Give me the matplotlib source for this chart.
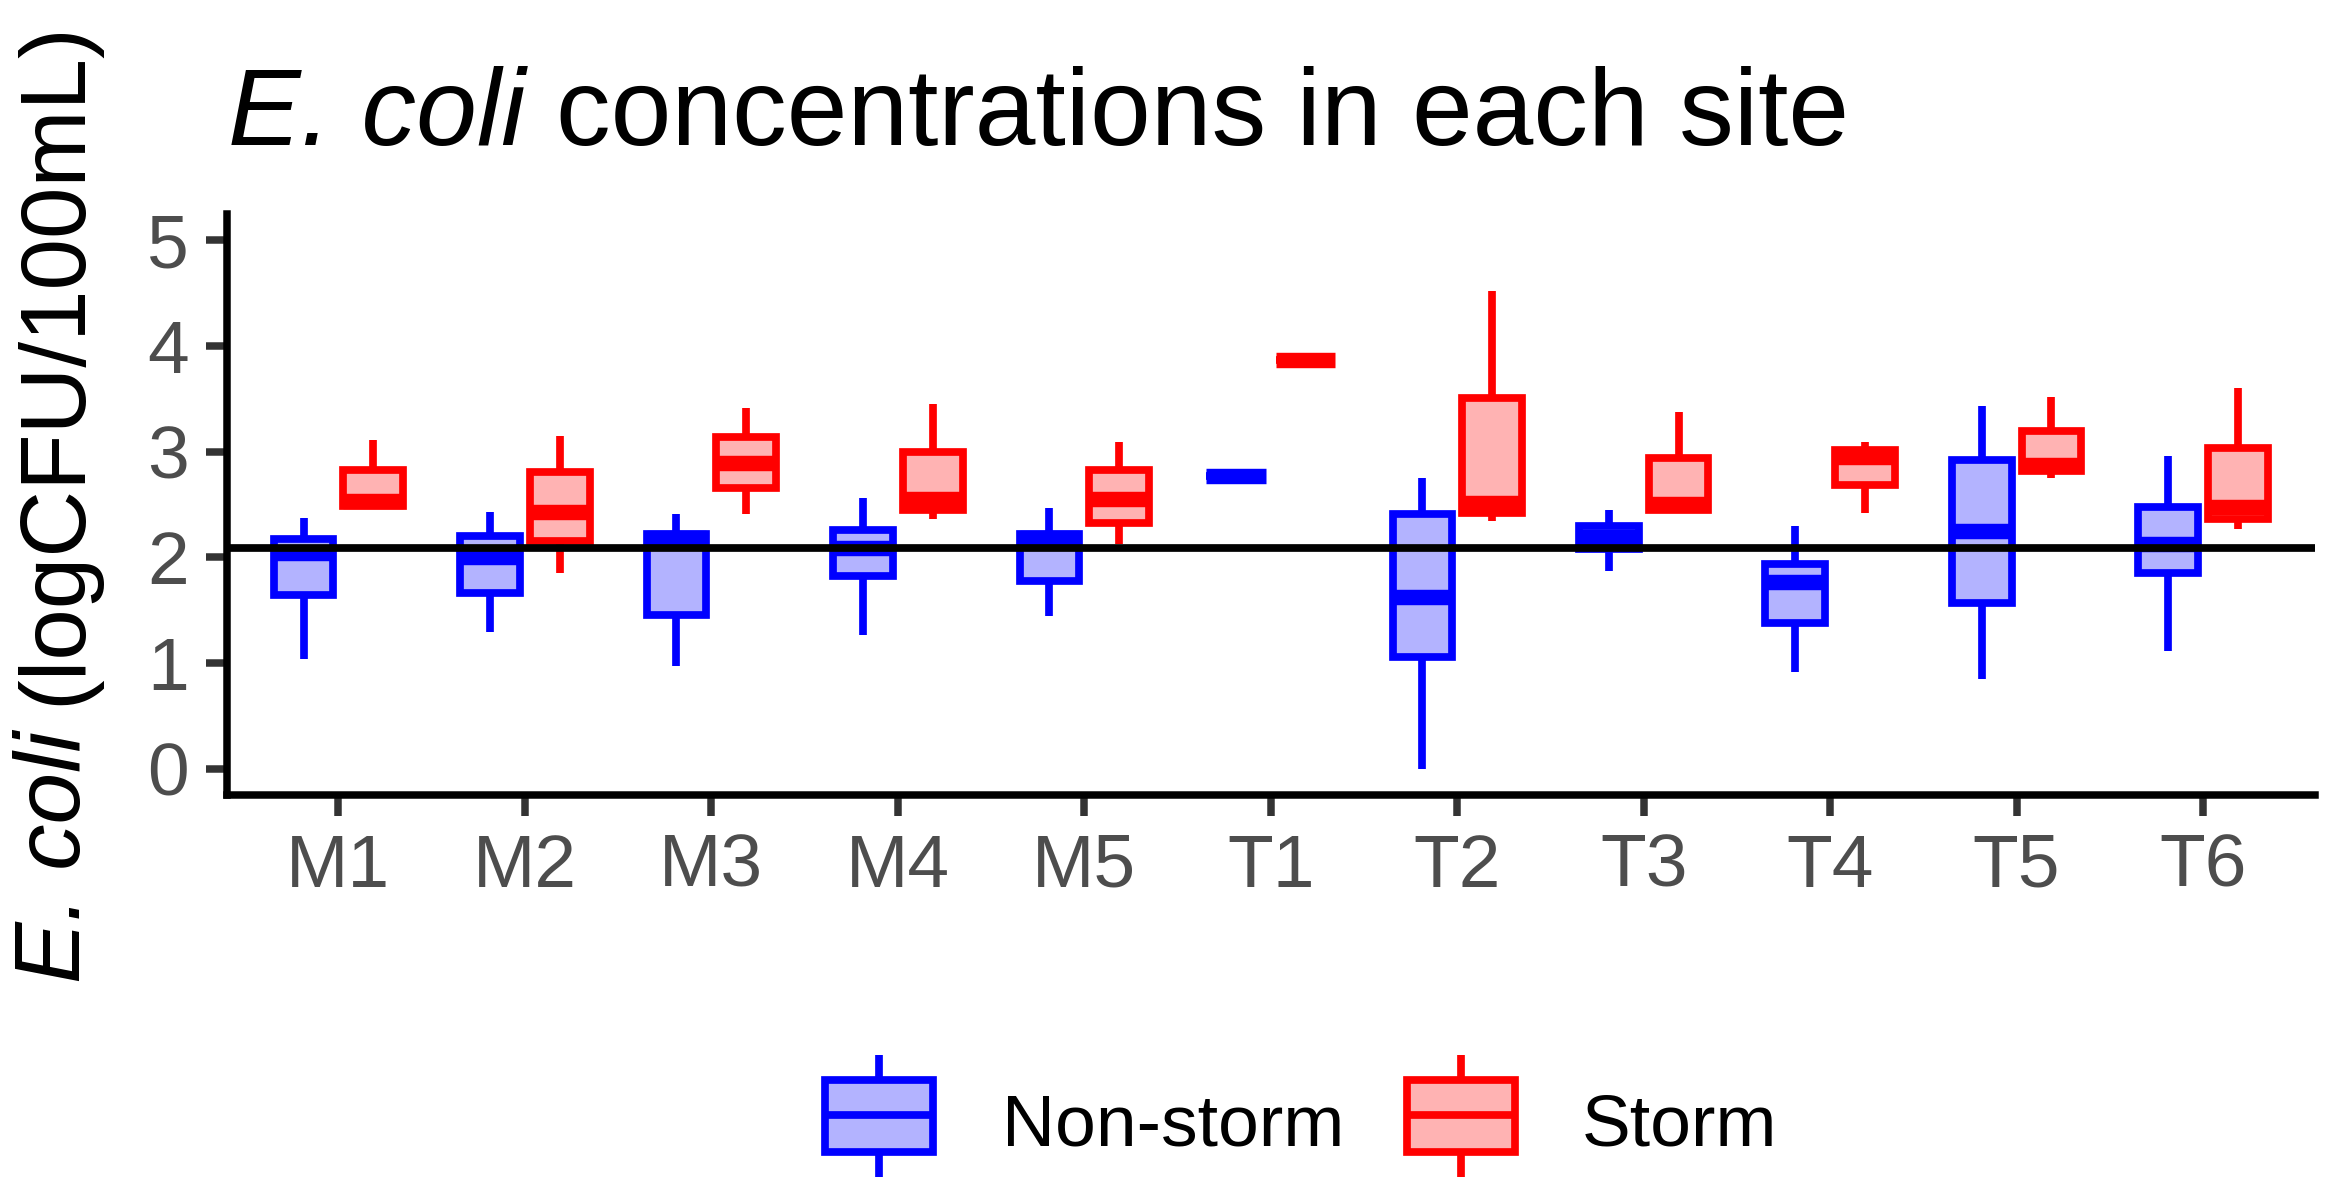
import matplotlib
matplotlib.use('Agg')
import matplotlib.pyplot as plt
import matplotlib.patches as patches

plt.rcParams['font.family'] = ['Liberation Sans', 'DejaVu Sans']

# sites on the x axis
sites = ['M1', 'M2', 'M3', 'M4', 'M5', 'T1', 'T2', 'T3', 'T4', 'T5', 'T6']

# non-storm box stats (log CFU/100 mL)
ns_low = [1.04, 1.29, 0.97, 1.26, 1.44, 2.77, 0.00, 1.87, 0.91, 0.85, 1.11]
ns_q1 = [1.64, 1.66, 1.45, 1.82, 1.78, 2.77, 1.06, 2.08, 1.38, 1.57, 1.85]
ns_med = [2.04, 2.00, 2.18, 2.09, 2.18, 2.77, 1.62, 2.19, 1.77, 2.25, 2.13]
ns_q3 = [2.17, 2.20, 2.22, 2.26, 2.22, 2.77, 2.41, 2.30, 1.94, 2.92, 2.48]
ns_high = [2.37, 2.43, 2.41, 2.56, 2.47, 2.77, 2.75, 2.45, 2.30, 3.43, 2.96]

# storm box stats
st_low = [2.49, 1.85, 2.41, 2.36, 2.13, 3.87, 2.34, 2.45, 2.42, 2.75, 2.27]
st_q1 = [2.49, 2.15, 2.66, 2.45, 2.32, 3.87, 2.42, 2.45, 2.68, 2.82, 2.36]
st_med = [2.53, 2.43, 2.89, 2.55, 2.55, 3.87, 2.51, 2.50, 2.95, 2.87, 2.48]
st_q3 = [2.83, 2.81, 3.14, 3.00, 2.83, 3.87, 3.51, 2.94, 3.02, 3.20, 3.03]
st_high = [3.11, 3.15, 3.41, 3.45, 3.09, 3.87, 4.52, 3.38, 3.09, 3.52, 3.60]

# reference threshold
threshold = 2.09

groups = ['Non-storm', 'Storm']
edge_cols = ['#0000FF', '#FF0000']
fill_cols = ['#B3B3FF', '#FFB3B3']

lw = 1.85
W, H = 2340, 1202

fig = plt.figure(figsize=(W / 300, H / 300), dpi=300)
ax = fig.add_axes([0.0968, 0.3386, 0.8925, 0.4834])


def make_stats(low, q1, med, q3, high):
    out = []
    for a, b, c, d, e in zip(low, q1, med, q3, high):
        out.append({'whislo': a, 'q1': b, 'med': c, 'q3': d, 'whishi': e, 'fliers': []})
    return out


all_stats = [make_stats(ns_low, ns_q1, ns_med, ns_q3, ns_high),
             make_stats(st_low, st_q1, st_med, st_q3, st_high)]
offsets = [-0.187, 0.187]

for stats, off, ec, fc in zip(all_stats, offsets, edge_cols, fill_cols):
    pos = [i + 1 + off for i in range(len(sites))]
    ax.bxp(stats, positions=pos, widths=0.32, patch_artist=True,
           showcaps=False, showfliers=False, manage_ticks=False,
           boxprops=dict(facecolor=fc, edgecolor=ec, linewidth=lw),
           medianprops=dict(color=ec, linewidth=lw * 2, solid_capstyle='butt'),
           whiskerprops=dict(color=ec, linewidth=lw, solid_capstyle='butt'))

ax.axhline(threshold, color='black', lw=lw, zorder=6)

ax.set_xlim(0.4, len(sites) + 0.6)
ax.set_ylim(-0.25, 5.25)
ax.set_xticks(range(1, len(sites) + 1))
ax.set_xticklabels(sites)
ax.set_yticks([0, 1, 2, 3, 4, 5])
ax.tick_params(axis='both', length=5, width=1.8, color='#333333',
               labelsize=18, labelcolor='#4D4D4D', pad=4)
for s in ['top', 'right']:
    ax.spines[s].set_visible(False)
for s in ['left', 'bottom']:
    ax.spines[s].set_linewidth(1.8)
    ax.spines[s].set_color('black')

renderer = fig.canvas.get_renderer()

# title: italic species name + plain text
tsize = 26.2
t1 = fig.text(228 / W, 1 - 145 / H, 'E. coli', fontsize=tsize, style='italic',
              ha='left', va='baseline')
x_end = t1.get_window_extent(renderer).x1
space = 0.278 * tsize * 300 / 72
fig.text((x_end + space) / W, 1 - 145 / H, 'concentrations in each site',
         fontsize=tsize, ha='left', va='baseline')

# y label, rotated, built from two pieces and centred on the panel
ysize = 22.2
ycx = 0.024
yc = 1 - 502 / H
p1 = fig.text(ycx, 0, 'E. coli', fontsize=ysize, style='italic', rotation=90,
              ha='center', va='bottom')
p2 = fig.text(ycx, 0, '(logCFU/100mL)', fontsize=ysize, rotation=90,
              ha='center', va='bottom')
h1 = p1.get_window_extent(renderer).height
h2 = p2.get_window_extent(renderer).height
ysp = 0.278 * ysize * 300 / 72
total = h1 + ysp + h2
y0 = yc * H - total / 2
p1.set_y(y0 / H)
p2.set_y((y0 + h1 + ysp) / H)

# legend drawn in pixel coordinates
lg = fig.add_axes([0, 0, 1, 1], facecolor='none')
lg.set_xlim(0, W)
lg.set_ylim(H, 0)
lg.axis('off')
key_x = [825, 1407]
text_x = [1002, 1582]
for kx, tx, ec, fc, name in zip(key_x, text_x, edge_cols, fill_cols, groups):
    lg.add_patch(patches.Rectangle((kx, 1080), 108, 72, facecolor=fc,
                                   edgecolor=ec, linewidth=lw))
    cx = kx + 54
    lg.plot([kx, kx + 108], [1115, 1115], color=ec, lw=lw, solid_capstyle='butt')
    lg.plot([cx, cx], [1055, 1080], color=ec, lw=lw, solid_capstyle='butt')
    lg.plot([cx, cx], [1152, 1177], color=ec, lw=lw, solid_capstyle='butt')
    lg.text(tx, 1145, name, fontsize=17.6, ha='left', va='baseline', color='black')

fig.savefig('out.png', dpi=300)
